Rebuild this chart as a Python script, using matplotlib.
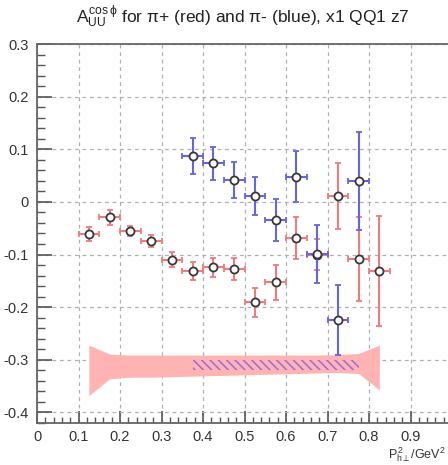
import matplotlib
matplotlib.use("Agg")
import matplotlib.pyplot as plt
from matplotlib.ticker import MultipleLocator
import numpy as np

plt.rcParams['font.family'] = ['Liberation Sans', 'DejaVu Sans']
plt.rcParams['mathtext.fontset'] = 'custom'
plt.rcParams['mathtext.rm'] = 'Liberation Sans'
plt.rcParams['mathtext.it'] = 'Liberation Sans'
plt.rcParams['hatch.color'] = '#9a6ae0'
plt.rcParams['hatch.linewidth'] = 1.1

# data
red_x = [0.125, 0.175, 0.225, 0.275, 0.325, 0.375, 0.425, 0.475, 0.525, 0.575, 0.625, 0.675, 0.725, 0.775, 0.825]
red_y = [-0.061, -0.029, -0.055, -0.074, -0.110, -0.132, -0.124, -0.128, -0.191, -0.153, -0.069, -0.100, 0.011, -0.108, -0.131]
red_err = [0.013, 0.014, 0.010, 0.011, 0.014, 0.017, 0.018, 0.021, 0.028, 0.034, 0.040, 0.030, 0.062, 0.080, 0.105]

blue_x = [0.375, 0.425, 0.475, 0.525, 0.575, 0.625, 0.675, 0.725, 0.775]
blue_y = [0.087, 0.073, 0.041, 0.011, -0.034, 0.048, -0.099, -0.224, 0.039]
blue_err = [0.034, 0.032, 0.034, 0.036, 0.040, 0.048, 0.055, 0.067, 0.093]

x_halfwidth = 0.025

sys_x = [0.125, 0.175, 0.225, 0.275, 0.325, 0.375, 0.425, 0.475, 0.525, 0.575, 0.625, 0.675, 0.725, 0.775, 0.825]
sys_top = [-0.272, -0.289, -0.291, -0.291, -0.291, -0.291, -0.291, -0.291, -0.291, -0.291, -0.291, -0.291, -0.290, -0.288, -0.272]
sys_bot = [-0.368, -0.336, -0.333, -0.333, -0.332, -0.331, -0.330, -0.329, -0.328, -0.327, -0.326, -0.325, -0.324, -0.326, -0.357]

bsys_x = [0.375, 0.425, 0.475, 0.525, 0.575, 0.625, 0.675, 0.725, 0.775]
bsys_top = [-0.300, -0.300, -0.300, -0.300, -0.300, -0.300, -0.300, -0.300, -0.300]
bsys_bot = [-0.320, -0.320, -0.320, -0.320, -0.320, -0.320, -0.320, -0.320, -0.320]

fig = plt.figure(figsize=(4.48, 4.65), dpi=100)
ax = fig.add_axes([37/448, 42/465, 415/448, 379/465])
ax.set_xlim(0, 1.0)
ax.set_ylim(-0.42, 0.3)

ax.grid(True, which='major', color='#b0b0b0', linestyle=(0, (3, 3)), linewidth=0.9)
ax.set_axisbelow(True)

ax.fill_between(sys_x, sys_bot, sys_top, color='#ffb3b3', linewidth=0, zorder=2)
ax.fill_between(bsys_x, bsys_bot, bsys_top, facecolor='none', edgecolor='#9a6ae0',
                hatch='\\\\\\\\', linewidth=0, zorder=3)

red_c = '#f27a7a'
blue_c = '#6464e6'
ax.errorbar(red_x, red_y, yerr=red_err, xerr=x_halfwidth, fmt='o', color=red_c,
            ecolor=red_c, elinewidth=1.5, capsize=2, capthick=1.1,
            mfc='white', mec='#383838', mew=1.3, ms=5.8, zorder=4)
ax.errorbar(blue_x, blue_y, yerr=blue_err, xerr=x_halfwidth, fmt='o', color=blue_c,
            ecolor=blue_c, elinewidth=1.5, capsize=2, capthick=1.1,
            mfc='white', mec='#383838', mew=1.3, ms=5.8, zorder=5)

ax.xaxis.set_major_locator(MultipleLocator(0.1))
ax.xaxis.set_minor_locator(MultipleLocator(0.02))
ax.yaxis.set_major_locator(MultipleLocator(0.1))
ax.yaxis.set_minor_locator(MultipleLocator(0.02))
ax.tick_params(axis='both', which='both', direction='in', colors='#555555',
               labelcolor='#333333', labelsize=10.5)
ax.tick_params(axis='y', which='major', length=11, width=1.2, pad=6)
ax.tick_params(axis='y', which='minor', length=6, width=1.0)
ax.tick_params(axis='x', which='major', length=9, width=1.2, pad=5)
ax.tick_params(axis='x', which='minor', length=4.5, width=1.0)
ax.tick_params(top=False, right=False, which='both')

xt = np.round(np.arange(0, 0.91, 0.1), 1)
ax.set_xticks(xt)
ax.set_xticklabels(['0' if v == 0 else f'{v:g}' for v in xt])
yt = np.round(np.arange(-0.4, 0.31, 0.1), 1)
ax.set_yticks(yt)
ax.set_yticklabels(['0' if v == 0 else f'{v:g}' for v in yt])

for s in ax.spines.values():
    s.set_color('#666666')
    s.set_linewidth(1.3)

fig.text(243/448, 1 - 17/465, r'$A_{UU}^{\cos\phi}$ for $\pi$+ (red) and $\pi$- (blue), x1 QQ1 z7',
         ha='center', va='center', fontsize=12.5, color='#222222')
fig.text(446/448, 10/465, r'$P_{h\perp}^{2}$/GeV$^{2}$', ha='right', va='center',
         fontsize=9, color='#333333')

fig.savefig('out.png', dpi=100)
